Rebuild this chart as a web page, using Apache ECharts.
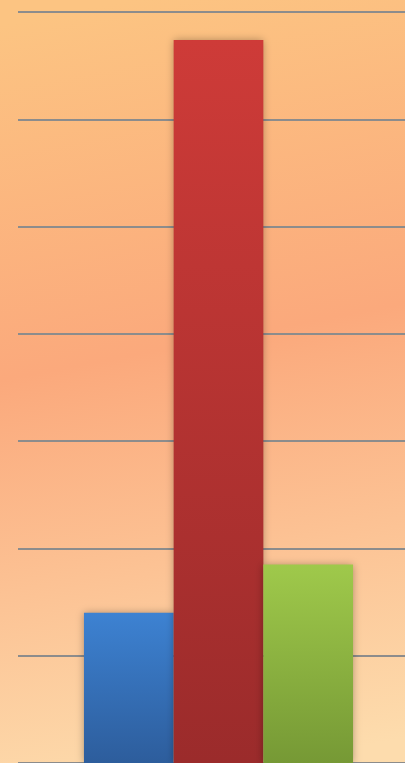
<!DOCTYPE html>
<html>
<head>
<meta charset="utf-8">
<script src="https://cdn.jsdelivr.net/npm/echarts@6/dist/echarts.min.js"></script>
<style>
html,body{margin:0;padding:0;width:405px;height:763px;overflow:hidden;}
#chart{width:405px;height:763px;}
</style>
</head>
<body>
<div id="chart"></div>
<script>
const categories = [''];
const seriesNames = ['A', 'B', 'C'];
const valuesA = [1.4];
const valuesB = [6.74];
const valuesC = [1.85];
const yTicks = [0, 1, 2, 3, 4, 5, 6, 7];

const chart = echarts.init(document.getElementById('chart'), null, {renderer: 'canvas'});

function grad(top, bottom) {
  return new echarts.graphic.LinearGradient(0, 0, 0, 1, [
    {offset: 0, color: top},
    {offset: 1, color: bottom}
  ]);
}

const barCommon = {
  type: 'bar',
  xAxisIndex: 1,
  yAxisIndex: 1,
  barWidth: 89.7,
  barGap: '0%',
  silent: true
};

const hiddenX = {
  type: 'category',
  data: categories,
  axisLine: {show: false},
  axisTick: {show: false},
  axisLabel: {show: false},
  splitLine: {show: false}
};

const yBase = {
  type: 'value',
  min: yTicks[0],
  max: yTicks[yTicks.length - 1],
  interval: 1,
  axisLine: {show: false},
  axisTick: {show: false},
  axisLabel: {show: false}
};

chart.setOption({
  animation: false,
  backgroundColor: {
    type: 'linear',
    x: 130, y: 0, x2: 275, y2: 763,
    global: true,
    colorStops: [
      {offset: 0, color: '#fcc482'},
      {offset: 0.45, color: '#fba97c'},
      {offset: 1, color: '#fddcad'}
    ]
  },
  grid: [
    {left: 18, right: 0, top: 12, bottom: 0, containLabel: false},
    {left: 32, right: 0, top: 12, bottom: 0, containLabel: false}
  ],
  xAxis: [
    Object.assign({gridIndex: 0}, hiddenX),
    Object.assign({gridIndex: 1}, hiddenX)
  ],
  yAxis: [
    Object.assign({gridIndex: 0, splitLine: {show: true, lineStyle: {color: '#8c8c8c', width: 2}}}, yBase),
    Object.assign({gridIndex: 1, splitLine: {show: false}}, yBase)
  ],
  series: [
    Object.assign({}, barCommon, {
      name: seriesNames[0], data: valuesA,
      itemStyle: {color: grad('#3d82d2', '#2d5d9c'), shadowBlur: 8, shadowColor: 'rgba(0,0,0,0.3)'}
    }),
    Object.assign({}, barCommon, {
      name: seriesNames[1], data: valuesB,
      itemStyle: {color: grad('#ce3b38', '#9b2b2b'), shadowBlur: 8, shadowColor: 'rgba(0,0,0,0.3)'}
    }),
    Object.assign({}, barCommon, {
      name: seriesNames[2], data: valuesC,
      itemStyle: {color: grad('#9fc94b', '#769935'), shadowBlur: 8, shadowColor: 'rgba(0,0,0,0.3)'}
    })
  ]
});
</script>
</body>
</html>
